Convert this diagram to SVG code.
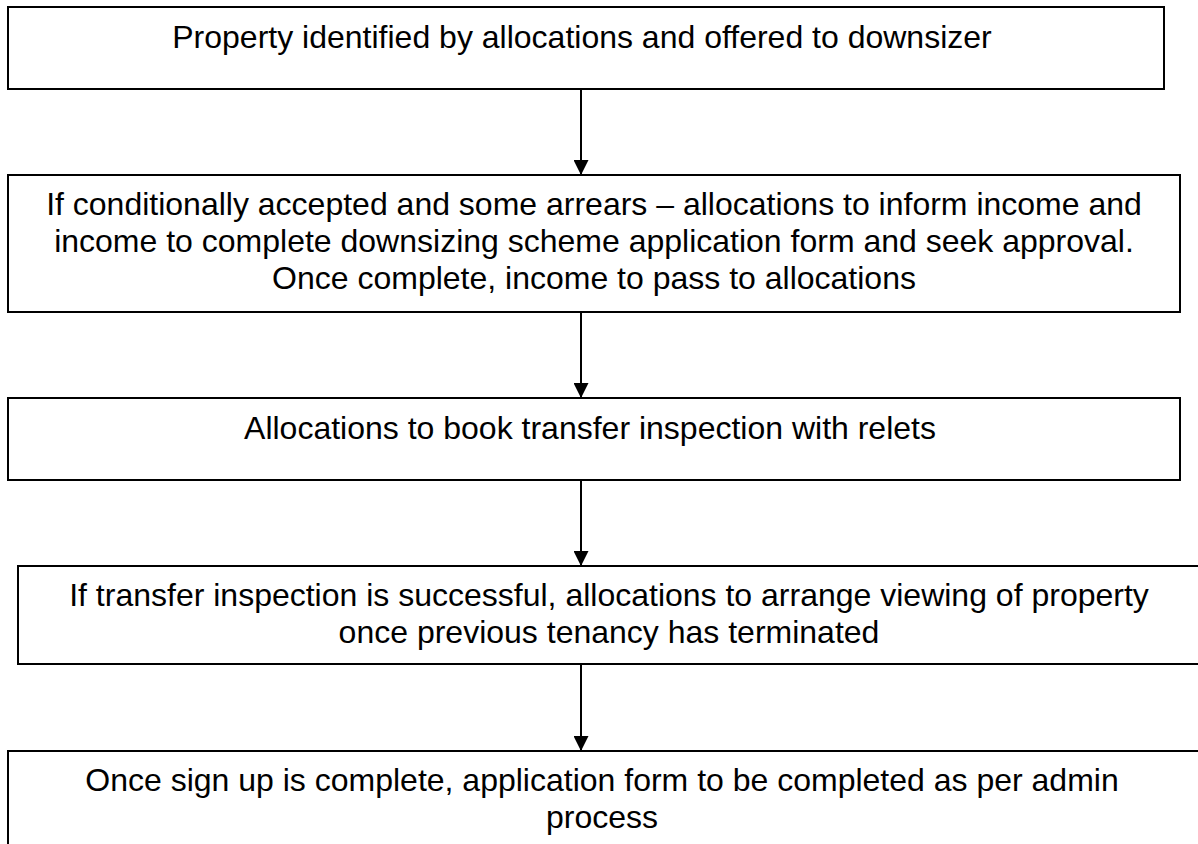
<svg xmlns="http://www.w3.org/2000/svg" width="1198" height="844" viewBox="0 0 1198 844">
<defs>
<style>
.box{fill:#fff;stroke:#000;stroke-width:2}
.t{font-family:"Liberation Sans",Arial,sans-serif;font-size:32px;fill:#000;text-anchor:middle}
.c{stroke:#000;stroke-width:2;fill:none}
</style>
<marker id="ah" markerWidth="15" markerHeight="15" refX="15" refY="7.5" orient="auto" markerUnits="userSpaceOnUse">
<path d="M0,0 L15,7.5 L0,15 Z" fill="#000"/>
</marker>
</defs>
<rect width="1198" height="844" fill="#fff"/>
<g id="connectors">
<line class="c" x1="581" y1="89" x2="581" y2="175" marker-end="url(#ah)"/>
<line class="c" x1="581" y1="312" x2="581" y2="398" marker-end="url(#ah)"/>
<line class="c" x1="581" y1="480" x2="581" y2="566" marker-end="url(#ah)"/>
<line class="c" x1="581" y1="664" x2="581" y2="751" marker-end="url(#ah)"/>
</g>
<g id="n1">
<rect class="box" x="8" y="7" width="1156" height="82"/>
<text class="t" x="582" y="48">Property identified by allocations and offered to downsizer</text>
</g>
<g id="n2">
<rect class="box" x="8" y="175" width="1172" height="137"/>
<text class="t" x="594" y="215">If conditionally accepted and some arrears – allocations to inform income and</text>
<text class="t" x="594" y="252">income to complete downsizing scheme application form and seek approval.</text>
<text class="t" x="594" y="289">Once complete, income to pass to allocations</text>
</g>
<g id="n3">
<rect class="box" x="8" y="398" width="1172" height="82"/>
<text class="t" x="590" y="439">Allocations to book transfer inspection with relets</text>
</g>
<g id="n4">
<rect class="box" x="18" y="566" width="1190" height="98"/>
<text class="t" x="609" y="606">If transfer inspection is successful, allocations to arrange viewing of property</text>
<text class="t" x="609" y="643">once previous tenancy has terminated</text>
</g>
<g id="n5">
<rect class="box" x="8" y="751" width="1200" height="110"/>
<text class="t" x="602" y="791">Once sign up is complete, application form to be completed as per admin</text>
<text class="t" x="602" y="828">process</text>
</g>
</svg>
